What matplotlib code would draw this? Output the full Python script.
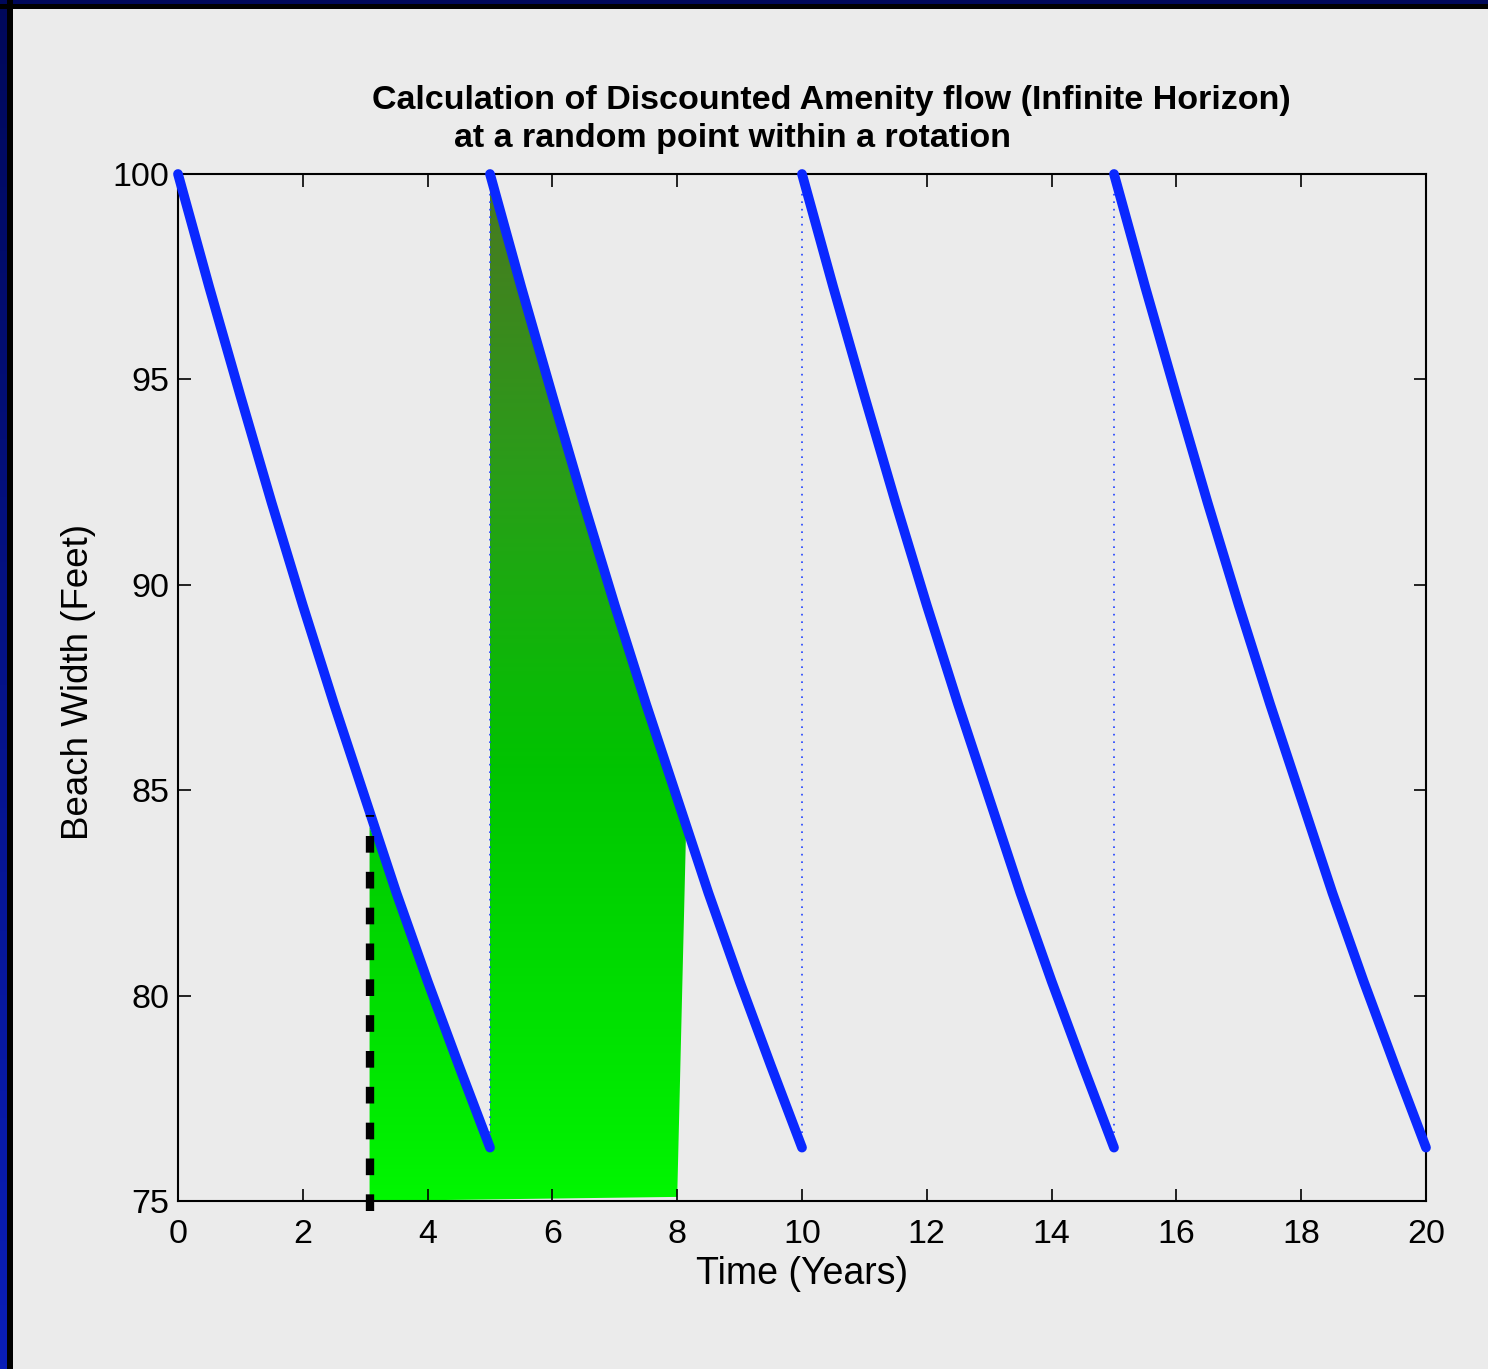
import numpy as np
import matplotlib
matplotlib.use("Agg")
import matplotlib.pyplot as plt
from matplotlib.colors import LinearSegmentedColormap
from matplotlib.patches import Polygon, Rectangle

# ---- data ----
rotation_len = 5.0
n_rotations = 4
cycle_t = [0, 0.5, 1.0, 1.5, 2.0, 2.5, 3.0, 3.5, 4.0, 4.5, 5.0]
cycle_w = [100, 97.25, 94.6, 92.0, 89.5, 87.1, 84.8, 82.5, 80.35, 78.3, 76.3]

random_point_t = 3.07
random_point_w = 84.4

fill_t = [3.07, 3.07, 3.5, 4.0, 4.5, 5.0, 5.0, 5.5, 6.0, 6.5, 7.0, 7.5, 8.0, 8.14, 8.0]
fill_w = [75.0, 84.1, 82.5, 80.35, 78.3, 76.3, 100, 97.25, 94.6, 92.0, 89.5, 87.1, 84.8, 83.9, 75.1]

xticks = [0, 2, 4, 6, 8, 10, 12, 14, 16, 18, 20]
yticks = [75, 80, 85, 90, 95, 100]

title1 = "Calculation of Discounted Amenity flow (Infinite Horizon)"
title2 = "at a random point within a rotation"

# ---- figure ----
W, H = 1488, 1369
bg = "#ebebeb"
fig = plt.figure(figsize=(W / 100, H / 100), dpi=100, facecolor=bg)
plt.rcParams['font.family'] = ['Liberation Sans', 'DejaVu Sans']

# frame decorations
fig.patches.append(Rectangle((0, 1 - 9 / H), 1, 9 / H, transform=fig.transFigure,
                             facecolor="black", edgecolor="none", zorder=0))
fig.patches.append(Rectangle((0, 1 - 4 / H), 1, 4 / H, transform=fig.transFigure,
                             facecolor="#00085a", edgecolor="none", zorder=1))
fig.patches.append(Rectangle((7 / W, 0), 6 / W, 1, transform=fig.transFigure,
                             facecolor="black", edgecolor="none", zorder=1))
axb = fig.add_axes([0, 0, 7 / W, 1])
bcmap = LinearSegmentedColormap.from_list("b", ["#0a1eb8", "#00085a"])
axb.imshow(np.linspace(0, 1, 256)[:, None], aspect="auto", cmap=bcmap, origin="lower",
           extent=[0, 1, 0, 1])
axb.axis("off")

ax = fig.add_axes([178 / W, 168 / H, (1426 - 178) / W, (1201 - 174) / H])
ax.set_facecolor(bg)
ax.set_xlim(0, 20)
ax.set_ylim(75, 100)

# gradient fill
gcmap = LinearSegmentedColormap.from_list(
    "g", [(0.0, (0.0, 0.97, 0.0)), (0.05, (0.0, 0.94, 0.0)), (0.42, (0.0, 0.77, 0.0)),
          (0.72, (0.17, 0.61, 0.10)), (1.0, (0.29, 0.47, 0.13))])
poly = Polygon(np.column_stack([fill_t, fill_w]), closed=True, facecolor="none",
               edgecolor="none", transform=ax.transData)
ax.add_patch(poly)
img = ax.imshow(np.linspace(0, 1, 256)[:, None], aspect="auto", cmap=gcmap,
                origin="lower", extent=[0, 20, 75, 100], zorder=1)
img.set_clip_path(poly)

# sawtooth
ct = np.array(cycle_t)
cw = np.array(cycle_w)
for k in range(n_rotations):
    ax.plot(ct + k * rotation_len, cw, color="#0a28ff", lw=7, solid_capstyle="round",
            zorder=3, clip_on=False)
    if k < n_rotations - 1:
        ax.plot([(k + 1) * rotation_len] * 2, [cw[-1], cw[0]], color="#2040ff",
                lw=1.2, ls=(0, (1, 3.5)), zorder=2)

# dashed marker line
ax.plot([random_point_t, random_point_t], [74.75, random_point_w], color="black",
        lw=6, dashes=(2.0, 2.3), dash_capstyle="butt", clip_on=False, zorder=4)

ax.set_xticks(xticks)
ax.set_yticks(yticks)
ax.tick_params(direction="in", length=9, width=1.2, labelsize=24.5, top=True,
               right=True, pad=6)
ax.tick_params(axis="x", pad=13)
for s in ax.spines.values():
    s.set_linewidth(1.5)
ax.set_xlabel("Time (Years)", fontsize=27, labelpad=4)
ax.set_ylabel("Beach Width (Feet)", fontsize=26.5)
ax.yaxis.set_label_coords(-0.066, 0.505)

fig.text(831 / W, 1 - 100 / H, title1, ha="center", va="center", fontsize=24.5,
         fontweight="bold")
fig.text(733 / W, 1 - 138 / H, title2, ha="center", va="center", fontsize=24.5,
         fontweight="bold")

fig.savefig("out.png", dpi=100, facecolor=bg)
